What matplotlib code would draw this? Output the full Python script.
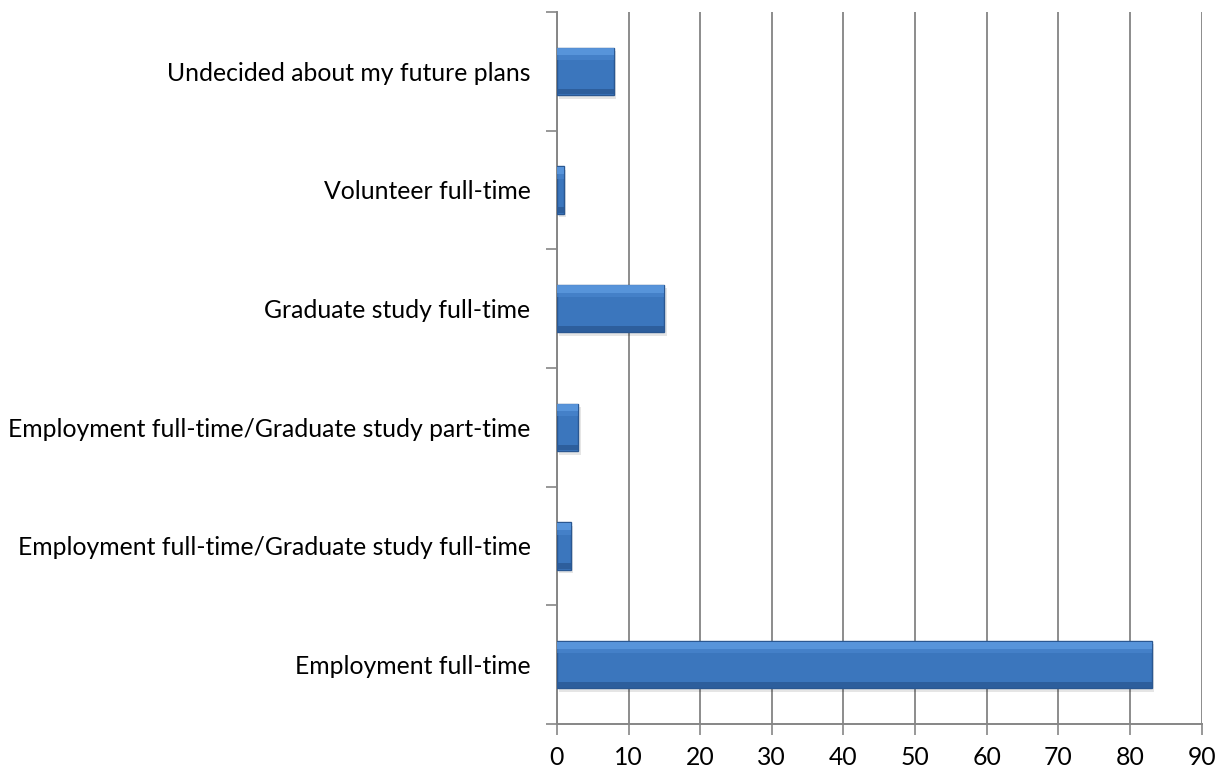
import matplotlib.pyplot as plt
import numpy as np

categories = ["Employment full-time",
              "Employment full-time/Graduate study full-time",
              "Employment full-time/Graduate study part-time",
              "Graduate study full-time",
              "Volunteer full-time",
              "Undecided about my future plans"]
values = [83, 2, 3, 15, 1, 8]
xticks = [0, 10, 20, 30, 40, 50, 60, 70, 80, 90]

plt.rcParams['font.family'] = ['Lato', 'DejaVu Sans']

fig = plt.figure(figsize=(12.28, 7.72), dpi=100)
ax = fig.add_axes([0.4535, 0.0622, 0.9786 - 0.4535, 0.9845 - 0.0622])

y = np.arange(len(categories))
h = 0.4
# soft shadow
ax.barh(y - 0.03, values, height=h, left=0.3, color="#000000", alpha=0.10, zorder=2)
# main bar
ax.barh(y, values, height=h, color="#3b76bd", edgecolor="#2a5791", linewidth=1.0, zorder=3)
# bevel: lighter band on top, darker band at the bottom
ax.barh(y + h / 2 - 0.035, values, height=0.06, color="#5d9ae0", alpha=0.85, linewidth=0, zorder=4)
ax.barh(y + h / 2 - 0.085, values, height=0.04, color="#4b88d0", alpha=0.6, linewidth=0, zorder=4)
ax.barh(y - h / 2 + 0.03, values, height=0.05, color="#2b5a97", alpha=0.85, linewidth=0, zorder=4)

ax.set_xlim(0, 90)
ax.set_ylim(-0.5, 5.5)
ax.set_xticks(xticks)
ax.set_yticks(y)
ax.set_yticklabels(categories)
ax.set_yticks(np.arange(-0.5, 6, 1), minor=True)
ax.tick_params(axis='y', which='major', length=0, pad=19, labelsize=17.8)
ax.tick_params(axis='y', which='minor', length=8, width=1.2, color="#868686", direction='out')
ax.tick_params(axis='x', length=8, width=1.2, color="#868686", direction='out', pad=8, labelsize=17.8)

ax.grid(axis='x', color="#8c8c8c", linewidth=1.4, zorder=0)
ax.set_axisbelow(True)
for s in ['top', 'right']:
    ax.spines[s].set_visible(False)
for s in ['left', 'bottom']:
    ax.spines[s].set_color("#868686")
    ax.spines[s].set_linewidth(1.4)

fig.savefig("out.png", dpi=100)
